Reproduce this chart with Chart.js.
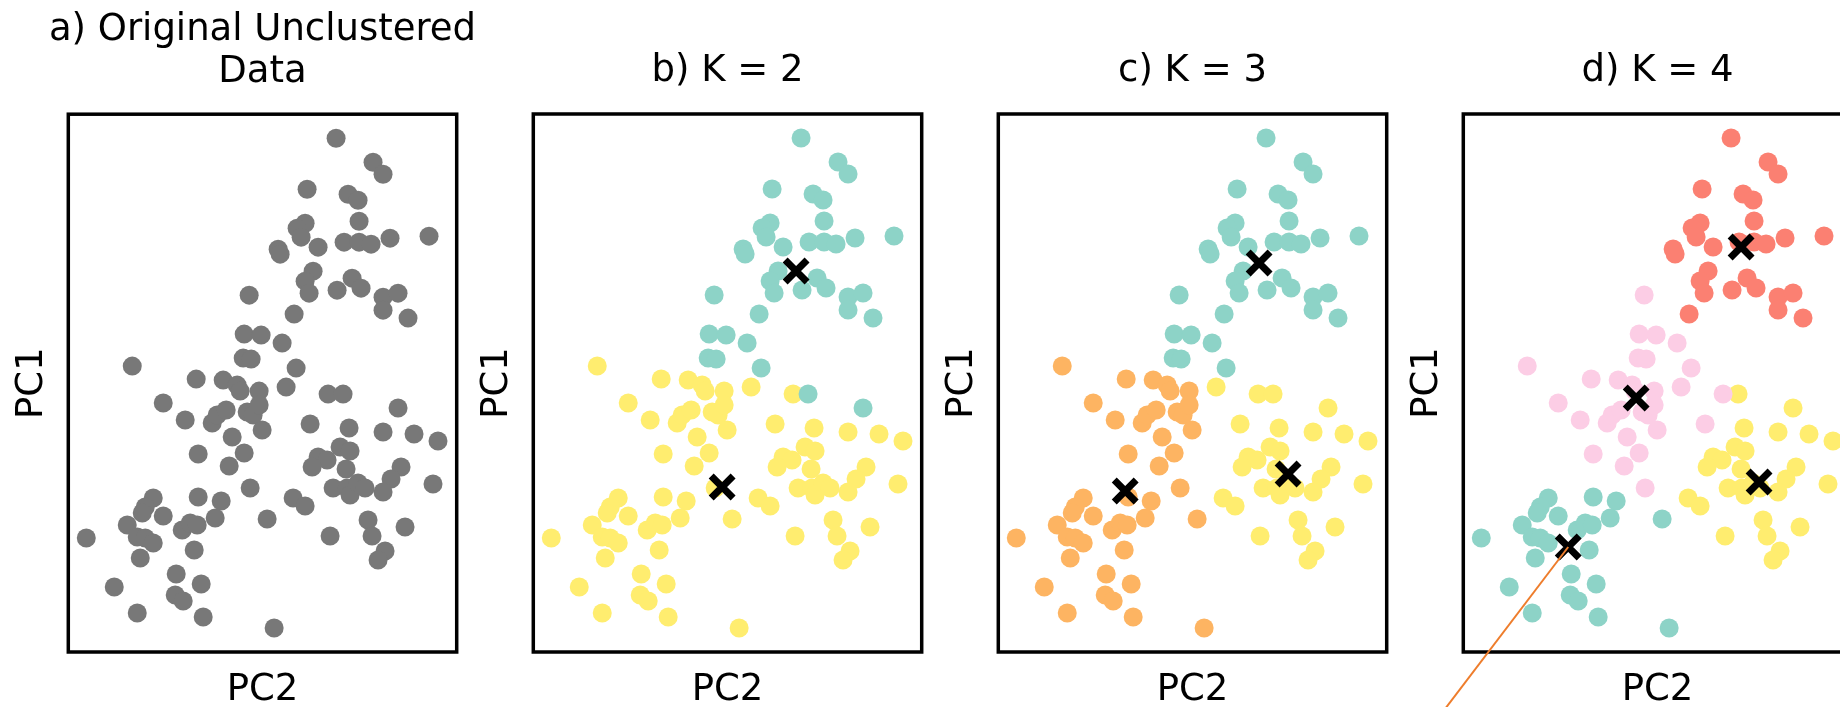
<!DOCTYPE html>
<html><head><meta charset="utf-8">
<script src="https://cdn.jsdelivr.net/npm/chart.js@4.4.1/dist/chart.umd.min.js"></script>
<style>
html,body{margin:0;padding:0;background:#fff;overflow:hidden;width:1840px;height:707px;}
#wrap{position:relative;width:1840px;height:707px;overflow:hidden;background:#fff;}
canvas{position:absolute;top:0;}
</style></head><body><div id="wrap">
<canvas id="c0" width="525" height="707" style="left:0px"></canvas>
<canvas id="c1" width="525" height="707" style="left:465px"></canvas>
<canvas id="c2" width="525" height="707" style="left:930px"></canvas>
<canvas id="c3" width="525" height="707" style="left:1395px"></canvas>
</div>
<script>
// ---- data ----
const pc2 = [0.68,1.05,1.15,0.39,0.80,0.90,0.91,0.37,0.29,0.33,
 0.10,0.12,0.50,0.76,0.91,1.03,1.22,1.61,0.45,0.37,
 0.41,0.69,0.84,0.93,1.15,1.30,1.15,1.40,-0.19,0.26,
 -0.24,-0.07,0.14,-0.25,-0.17,0.28,-1.36,-0.72,-0.45,-0.31,
 -0.28,-0.09,0.18,0.60,0.75,1.30,-1.05,-0.83,-0.56,-0.51,
 -0.42,-0.21,-0.15,-0.09,-0.06,-0.36,-0.24,-0.70,-0.39,-0.18,
 0.42,0.81,1.15,1.46,1.70,0.72,0.82,0.50,0.59,0.44,
 0.78,1.33,1.23,1.15,1.65,0.65,0.79,0.82,0.90,0.97,
 0.25,0.37,-0.70,-0.47,-1.15,-1.23,-1.26,-1.05,-1.41,-1.31,
 -1.23,-1.15,-1.28,-1.82,-0.53,-0.86,-0.78,-0.71,-0.74,-0.01,
 0.62,1.00,1.04,1.37,1.17,1.10,-0.92,-0.67,-1.54,-0.93,
 -0.85,-1.31,-0.65,0.06];
const pc1 = [2.44,2.20,2.08,1.93,1.88,1.82,1.61,1.59,1.54,1.45,
 1.33,1.28,1.35,1.40,1.40,1.38,1.44,1.46,1.11,1.01,
 0.89,0.92,1.04,0.94,0.85,0.89,0.72,0.64,0.87,0.68,
 0.48,0.47,0.39,0.24,0.23,0.14,0.16,0.03,0.02,-0.03,
 -0.09,-0.09,-0.05,-0.12,-0.12,-0.26,-0.21,-0.38,-0.41,-0.33,
 -0.28,-0.30,-0.33,-0.23,-0.48,-0.55,-0.71,-0.72,-0.84,-1.06,
 -0.42,-0.46,-0.50,-0.52,-0.59,-0.65,-0.69,-0.75,-0.78,-0.85,
 -0.87,-0.85,-0.97,-1.10,-1.02,-1.06,-1.06,-1.13,-1.01,-1.06,
 -1.16,-1.24,-1.15,-1.19,-1.16,-1.25,-1.31,-1.34,-1.43,-1.55,
 -1.56,-1.61,-1.76,-1.56,-1.36,-1.48,-1.41,-1.43,-1.68,-1.37,
 -1.54,-1.38,-1.54,-1.45,-1.69,-1.78,-1.92,-2.02,-2.05,-2.13,
 -2.19,-2.31,-2.35,-2.46];
const clusterK2 = [0,0,0,0,0,0,0,0,0,0, 0,0,0,0,0,0,0,0,0,0, 0,0,0,0,0,0,0,0,0,0,
 0,0,0,0,0,0,1,1,1,1, 1,1,1,1,0,0,1,1,1,1, 1,1,1,1,1,1,1,1,1,1,
 1,1,1,1,1,1,1,1,1,1, 1,1,1,1,1,1,1,1,1,1, 1,1,1,1,1,1,1,1,1,1,
 1,1,1,1,1,1,1,1,1,1, 1,1,1,1,1,1,1,1,1,1, 1,1,1,1];
const clusterK3 = [0,0,0,0,0,0,0,0,0,0, 0,0,0,0,0,0,0,0,0,0, 0,0,0,0,0,0,0,0,0,0,
 0,0,0,0,0,0,1,1,1,1, 1,1,2,2,2,2,1,1,1,1, 1,1,1,1,1,1,1,1,1,1,
 2,2,2,2,2,2,2,2,2,2, 2,2,2,2,2,2,2,2,2,2, 2,2,1,1,1,1,1,1,1,1,
 1,1,1,1,1,1,1,1,1,1, 2,2,2,2,2,2,1,1,1,1, 1,1,1,1];
const clusterK4 = [0,0,0,0,0,0,0,0,0,0, 0,0,0,0,0,0,0,0,0,0, 0,0,0,0,0,0,0,0,1,0,
 1,1,1,1,1,1,1,1,1,1, 1,1,1,1,2,2,1,1,1,1, 1,1,1,1,1,1,1,1,1,1,
 1,2,2,2,2,2,2,2,2,2, 2,2,2,2,2,2,2,2,2,2, 2,2,3,3,3,3,3,3,3,3,
 3,3,3,3,3,3,3,3,3,3, 2,2,2,2,2,2,3,3,3,3, 3,3,3,3];
const centK2_pc2 = [0.63,-0.11], centK2_pc1 = [1.11,-1.05];
const centK3_pc2 = [0.61,-0.73,0.90], centK3_pc1 = [1.19,-1.09,-0.92];
const centK4_pc2 = [0.78,-0.27,0.96,-0.95], centK4_pc1 = [1.35,-0.16,-1.00,-1.65];
const annot_pc2 = [-0.95,-2.29], annot_pc1 = [-1.65,-3.41];
const pc2Range = [-2.0, 1.887], pc1Range = [-2.70, 2.68];
const panelTitles = [['a) Original Unclustered','Data'], 'b) K = 2', 'c) K = 3', 'd) K = 4'];
const xLabel = 'PC2', yLabel = 'PC1';

// ---- styles ----
const FONT = 'DejaVu Sans';
const grey = '#787878';
const colorsK2 = ['#8dd3c7','#ffed6f'];
const colorsK3 = ['#8dd3c7','#fdb462','#ffed6f'];
const colorsK4 = ['#fb8072','#fccde5','#ffed6f','#8dd3c7'];

const framePlugin = {id:'frame', beforeDatasetsDraw(chart){
  const {ctx, chartArea:a} = chart; ctx.save(); ctx.strokeStyle='#000'; ctx.lineWidth=3.5;
  ctx.strokeRect(a.left, a.top, a.right-a.left, a.bottom-a.top); ctx.restore(); }};

function pts(filterFn){ const out=[]; for(let i=0;i<pc2.length;i++){ if(filterFn(i)) out.push({x:pc2[i], y:pc1[i]}); } return out; }
function pointSet(data, color, order){ return {type:'scatter', data, backgroundColor:color, pointBackgroundColor:color, borderWidth:0, pointBorderWidth:0, pointRadius:9.5, order}; }
function centSet(xs, ys){ return {type:'scatter', data:xs.map((v,i)=>({x:v,y:ys[i]})), pointStyle:'crossRot', pointRadius:15.5, borderColor:'#000', pointBorderColor:'#000', borderWidth:7, pointBorderWidth:7, backgroundColor:'#000', order:1}; }

function makeChart(id, title, datasets){
  const multi = Array.isArray(title);
  new Chart(document.getElementById(id), {
    type:'scatter',
    data:{datasets},
    plugins:[framePlugin],
    options:{
      responsive:false, animation:false, events:[],
      layout:{padding:0, autoPadding:false},
      plugins:{legend:{display:false}, tooltip:{enabled:false},
        title:{display:true, text:title, color:'#000', fullSize:true,
          font:{family:FONT, size:37, weight:'normal', lineHeight:1.127},
          padding:{top: multi ? 9.5 : 51, bottom:21.3}}},
      scales:{
        x:{type:'linear', position:'bottom', min:pc2Range[0], max:pc2Range[1],
           grid:{display:false}, border:{display:false}, ticks:{display:false},
           title:{display:true, text:xLabel, color:'#000', font:{family:FONT, size:37, lineHeight:0.89}, padding:0},
           afterFit(s){ s.height = 55; }},
        y:{type:'linear', position:'left', min:pc1Range[0], max:pc1Range[1],
           grid:{display:false}, border:{display:false}, ticks:{display:false},
           title:{display:true, text:yLabel, color:'#000', font:{family:FONT, size:37, lineHeight:1}, padding:{top:13.5, bottom:0}},
           afterFit(s){ s.width = 68.3; }},
        y2:{type:'linear', position:'right', display:true,
           grid:{display:false}, border:{display:false}, ticks:{display:false},
           afterFit(s){ s.width = 68.3; }}
      }
    }
  });
}

// a) unclustered
makeChart('c0', panelTitles[0], [pointSet(pts(()=>true), grey, 2)]);
// b) K=2
makeChart('c1', panelTitles[1], [centSet(centK2_pc2, centK2_pc1)].concat(
  colorsK2.map((c,k)=>pointSet(pts(i=>clusterK2[i]===k), c, 2+k))));
// c) K=3
makeChart('c2', panelTitles[2], [centSet(centK3_pc2, centK3_pc1)].concat(
  colorsK3.map((c,k)=>pointSet(pts(i=>clusterK3[i]===k), c, 2+k))));
// d) K=4 with annotation line
makeChart('c3', panelTitles[3], [
  {type:'line', data:annot_pc2.map((v,i)=>({x:v,y:annot_pc1[i]})), borderColor:'#ee7d2c', borderWidth:2, pointRadius:0, showLine:true, clip:false, order:0},
  centSet(centK4_pc2, centK4_pc1)].concat(
  colorsK4.map((c,k)=>pointSet(pts(i=>clusterK4[i]===k), c, 2+k))));
</script>
</body></html>
